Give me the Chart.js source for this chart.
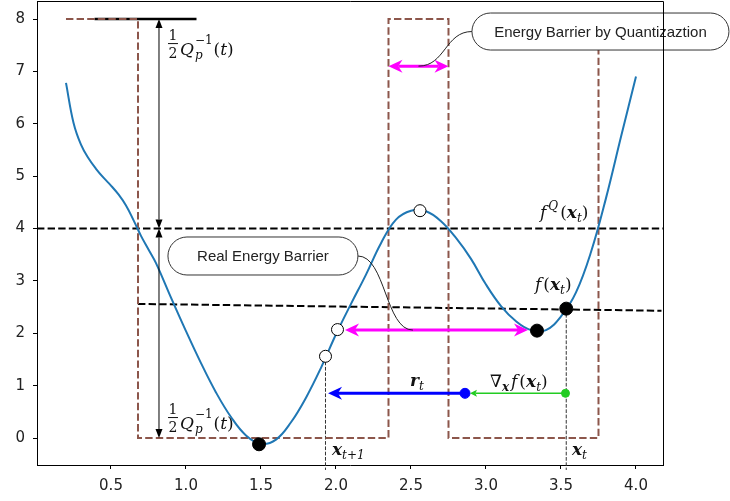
<!DOCTYPE html>
<html>
<head>
<meta charset="utf-8">
<script src="https://cdn.jsdelivr.net/npm/chart.js@4.4.1/dist/chart.umd.min.js"></script>
<style>
  html, body { margin: 0; padding: 0; background: #fff; }
  #wrap { width: 730px; height: 501px; }
</style>
</head>
<body>
<div id="wrap"><canvas id="energyChart" width="730" height="501"></canvas></div>
<script>
// loss curve f(x)
const curveX = [0.2, 0.25, 0.3, 0.35, 0.4, 0.45, 0.5, 0.55, 0.6, 0.65, 0.7, 0.75, 0.8, 0.9, 1.0,
  1.1, 1.2, 1.3, 1.4, 1.5, 1.6, 1.7, 1.8, 1.9, 2.0, 2.1, 2.2, 2.3, 2.4, 2.5, 2.6, 2.7,
  2.8, 2.9, 3.0, 3.1, 3.2, 3.3, 3.4, 3.5, 3.6, 3.7, 3.8, 3.9, 4.0];
const curveY = [6.78, 6.02, 5.6, 5.34, 5.14, 4.97, 4.82, 4.65, 4.44, 4.16, 3.86, 3.6, 3.34, 2.68, 2.04,
  1.43, 0.87, 0.4, 0.05, -0.11, -0.03, 0.3, 0.77, 1.34, 1.98, 2.56, 3.12, 3.72, 4.17, 4.34, 4.33, 4.14,
  3.82, 3.42, 2.93, 2.52, 2.23, 2.06, 2.06, 2.32, 2.78, 3.55, 4.58, 5.75, 6.9];

// quantization step (brown dashed)
const stepX = [0.2, 0.68, 0.68, 2.35, 2.35, 2.75, 2.75, 3.75, 3.75, 4.0];
const stepY = [8, 8, 0, 0, 8, 8, 0, 0, 8, 8];

// reference lines
const levelX = [0.0067, 4.18];
const levelY = [4, 4];
const slopeX = [0.68, 4.17];
const slopeY = [2.56, 2.43];
const capX = [0.39, 1.07];
const capY = [8, 8];

// iterates
const xT = 3.535;
const xT1 = 1.93;
const dropY = [2.47, -0.61];
const dropY1 = [1.56, -0.61];

// markers
const blackX = [1.487, 3.34, 3.535];
const blackY = [-0.12, 2.05, 2.47];
const whiteX = [1.93, 2.01, 2.56];
const whiteY = [1.56, 2.07, 4.34];
const blueDot = [2.86, 0.853];
const greenDot = [3.53, 0.853];

// arrows
const halfQX = 0.82;
const halfQY = [8, 4, 0];
const quantBarrierX = [2.35, 2.75];
const quantBarrierY = 7.1;
const realBarrierX = [2.06, 3.28];
const realBarrierY = 2.06;
const rStepX = [2.86, 1.947];
const gradX = [3.53, 2.893];
const stepArrowY = 0.853;

// axis ticks
const xTicks = [0.5, 1.0, 1.5, 2.0, 2.5, 3.0, 3.5, 4.0];
const yTicks = [0, 1, 2, 3, 4, 5, 6, 7, 8];

const pts = (xs, ys) => xs.map((x, i) => ({ x: x, y: ys[i] }));

const MI = 'italic 17px "DejaVu Serif"';
const MB = 'bold italic 17px "DejaVu Serif"';
const MR = '17px "DejaVu Serif"';
const SI = 'italic 12px "DejaVu Serif"';
const SR = '12px "DejaVu Serif"';

function drawRuns(ctx, x, y, runs) {
  ctx.textAlign = 'left';
  ctx.textBaseline = 'alphabetic';
  for (const r of runs) {
    ctx.font = r.font;
    ctx.fillText(r.t, x + (r.dx || 0), y + (r.dy || 0));
    x += ctx.measureText(r.t).width + (r.dx || 0) + (r.sp || 0);
  }
  return x;
}

function arrowHead(ctx, tx, ty, fx, fy, len, wid, notch, color) {
  const d = Math.hypot(tx - fx, ty - fy);
  const ux = (tx - fx) / d, uy = (ty - fy) / d;
  const nx = -uy, ny = ux;
  const bx = tx - ux * len, by = ty - uy * len;
  ctx.beginPath();
  ctx.moveTo(tx, ty);
  ctx.lineTo(bx + nx * wid / 2, by + ny * wid / 2);
  ctx.lineTo(tx - ux * len * (1 - notch), ty - uy * len * (1 - notch));
  ctx.lineTo(bx - nx * wid / 2, by - ny * wid / 2);
  ctx.closePath();
  ctx.fillStyle = color;
  ctx.fill();
}

// a->b arrow, head at b (and a when both)
function arrow(ctx, ax, ay, bx, by, o) {
  const d = Math.hypot(bx - ax, by - ay);
  const ux = (bx - ax) / d, uy = (by - ay) / d;
  const back = o.len * (1 - o.notch);
  const sx = o.both ? ax + ux * back : ax, sy = o.both ? ay + uy * back : ay;
  ctx.strokeStyle = o.color;
  ctx.lineWidth = o.lw;
  ctx.setLineDash([]);
  ctx.beginPath();
  ctx.moveTo(sx, sy);
  ctx.lineTo(bx - ux * back, by - uy * back);
  ctx.stroke();
  arrowHead(ctx, bx, by, ax, ay, o.len, o.wid, o.notch, o.color);
  if (o.both) arrowHead(ctx, ax, ay, bx, by, o.len, o.wid, o.notch, o.color);
}

function pillBox(ctx, cx, cy, w, h, text) {
  const r = h / 2;
  const l = cx - w / 2, rt = cx + w / 2, t = cy - h / 2, b = cy + h / 2;
  ctx.beginPath();
  ctx.moveTo(l + r, t);
  ctx.lineTo(rt - r, t);
  ctx.arc(rt - r, cy, r, -Math.PI / 2, Math.PI / 2);
  ctx.lineTo(l + r, b);
  ctx.arc(l + r, cy, r, Math.PI / 2, Math.PI * 1.5);
  ctx.closePath();
  ctx.fillStyle = '#fff';
  ctx.fill();
  ctx.strokeStyle = '#333';
  ctx.lineWidth = 1;
  ctx.setLineDash([]);
  ctx.stroke();
  ctx.fillStyle = '#222';
  ctx.font = '15px "Liberation Sans", Arial, sans-serif';
  ctx.textAlign = 'center';
  ctx.textBaseline = 'middle';
  ctx.fillText(text, cx, cy + 1);
}

function connector(ctx, x0, y0, x1, y1) {
  const mx = (x1 - x0) / 2;
  ctx.strokeStyle = '#222';
  ctx.lineWidth = 1;
  ctx.setLineDash([]);
  ctx.beginPath();
  ctx.moveTo(x0, y0);
  ctx.bezierCurveTo(x0 + mx, y0, x1 - mx, y1, x1, y1);
  ctx.stroke();
}

function halfQ(ctx, x, yBar) {
  ctx.fillStyle = '#111';
  ctx.textAlign = 'center';
  ctx.textBaseline = 'alphabetic';
  ctx.font = '14px "DejaVu Serif"';
  ctx.fillText('1', x + 5, yBar - 3);
  ctx.fillText('2', x + 5, yBar + 15);
  ctx.strokeStyle = '#111';
  ctx.lineWidth = 1;
  ctx.beginPath();
  ctx.moveTo(x, yBar + 0.5);
  ctx.lineTo(x + 10, yBar + 0.5);
  ctx.stroke();
  let cx = drawRuns(ctx, x + 12, yBar + 12, [{ t: 'Q', font: MI }]);
  ctx.font = SI;
  ctx.textAlign = 'left';
  ctx.fillText('p', cx + 1, yBar + 16);
  ctx.font = SR;
  ctx.fillText('\u22121', cx + 1, yBar + 1);
  cx += ctx.measureText('\u22121').width + 2;
  drawRuns(ctx, cx, yBar + 12, [{ t: '(', font: MR }, { t: 't', font: MI }, { t: ')', font: MR }]);
}

const overlay = {
  id: 'overlay',
  afterDatasetsDraw(chart) {
    const ctx = chart.ctx;
    const xs = chart.scales.x, ys = chart.scales.y;
    const X = v => xs.getPixelForValue(v);
    const Y = v => ys.getPixelForValue(v);
    const a = chart.chartArea;
    ctx.save();

    // half Q arrows
    const k = { color: '#000', lw: 1, len: 9, wid: 7, notch: 0, both: true };
    arrow(ctx, X(halfQX), Y(halfQY[0]), X(halfQX), Y(halfQY[1]), k);
    arrow(ctx, X(halfQX), Y(halfQY[1]), X(halfQX), Y(halfQY[2]), k);

    // barrier arrows
    const m = { color: '#ff00ff', lw: 3, len: 14, wid: 13, notch: 0.3, both: true };
    arrow(ctx, X(quantBarrierX[0]), Y(quantBarrierY), X(quantBarrierX[1]), Y(quantBarrierY), m);
    arrow(ctx, X(realBarrierX[0]), Y(realBarrierY), X(realBarrierX[1]), Y(realBarrierY), m);

    // update step and gradient
    arrow(ctx, X(rStepX[0]), Y(stepArrowY), X(rStepX[1]), Y(stepArrowY),
      { color: '#0000ff', lw: 3, len: 14, wid: 13, notch: 0.3, both: false });
    arrow(ctx, X(gradX[0]), Y(stepArrowY), X(gradX[1]), Y(stepArrowY),
      { color: '#22cc22', lw: 1.5, len: 7, wid: 7, notch: 0.2, both: false });

    // math labels
    ctx.fillStyle = '#111';
    halfQ(ctx, X(0.88), Y(7.54));
    halfQ(ctx, X(0.88), Y(0.40));
    drawRuns(ctx, X(3.36), Y(4.2), [{ t: 'f', font: MI, sp: 2 }, { t: 'Q', font: SI, dy: -8, sp: 2 },
      { t: '(', font: MR }, { t: 'x', font: MB }, { t: 't', font: SI, dy: 4 }, { t: ')', font: MR }]);
    drawRuns(ctx, X(3.327), Y(2.83), [{ t: 'f', font: MI, sp: 2 }, { t: '(', font: MR },
      { t: 'x', font: MB }, { t: 't', font: SI, dy: 4 }, { t: ')', font: MR }]);
    drawRuns(ctx, X(2.493), Y(0.99), [{ t: 'r', font: MB }, { t: 't', font: SI, dy: 4 }]);
    drawRuns(ctx, X(3.027), Y(0.97), [{ t: '\u2207', font: MR }, { t: 'x', font: 'bold italic 12px "DejaVu Serif"', dy: 4, sp: 2 },
      { t: 'f', font: MI, sp: 2 }, { t: '(', font: MR }, { t: 'x', font: MB }, { t: 't', font: SI, dy: 4 }, { t: ')', font: MR }]);
    drawRuns(ctx, X(1.973), Y(-0.32), [{ t: 'x', font: MB }, { t: 't+1', font: SI, dy: 4 }]);
    drawRuns(ctx, X(3.573), Y(-0.32), [{ t: 'x', font: MB }, { t: 't', font: SI, dy: 4 }]);

    // callouts
    connector(ctx, X(2.55), Y(quantBarrierY), X(3.763) - 128.5, Y(7.761));
    pillBox(ctx, X(3.763), Y(7.761), 257, 37, 'Energy Barrier by Quantizaztion');
    connector(ctx, X(1.513) + 95, Y(3.475), X(2.513), Y(realBarrierY));
    pillBox(ctx, X(1.513), Y(3.475), 190, 38, 'Real Energy Barrier');

    // frame top/right
    ctx.strokeStyle = '#000';
    ctx.lineWidth = 1;
    ctx.beginPath();
    ctx.moveTo(a.left, a.top + 0.5);
    ctx.lineTo(a.right + 0.5, a.top + 0.5);
    ctx.lineTo(a.right + 0.5, a.bottom);
    ctx.stroke();
    ctx.restore();
  }
};

const dashed = [7.4, 3.2];

function noPad(s) {
  s.paddingTop = 0;
  s.paddingBottom = 0;
  s.paddingLeft = 0;
  s.paddingRight = 0;
}

new Chart(document.getElementById('energyChart'), {
  type: 'scatter',
  data: {
    datasets: [
      { data: pts(blackX, blackY), pointRadius: 6.5, pointBackgroundColor: '#000', pointBorderColor: '#000', showLine: false },
      { data: pts(whiteX, whiteY), pointRadius: 6, pointBackgroundColor: '#fff', pointBorderColor: '#000', pointBorderWidth: 1, showLine: false },
      { data: [{ x: blueDot[0], y: blueDot[1] }], pointRadius: 5, pointBackgroundColor: '#0000ff', pointBorderColor: '#0000ff', showLine: false },
      { data: [{ x: greenDot[0], y: greenDot[1] }], pointRadius: 4, pointBackgroundColor: '#22cc22', pointBorderColor: '#22cc22', showLine: false },
      { data: pts(curveX, curveY), showLine: true, borderColor: '#1f77b4', borderWidth: 2, pointRadius: 0, tension: 0.4 },
      { data: pts(stepX, stepY), showLine: true, borderColor: '#8c564b', borderWidth: 2, borderDash: dashed, pointRadius: 0 },
      { data: pts(levelX, levelY), showLine: true, borderColor: '#000', borderWidth: 2, borderDash: dashed, pointRadius: 0 },
      { data: pts(slopeX, slopeY), showLine: true, borderColor: '#000', borderWidth: 2, borderDash: dashed, pointRadius: 0 },
      { data: pts(capX, capY), showLine: true, borderColor: '#000', borderWidth: 2.5, pointRadius: 0 },
      { data: pts([xT, xT], dropY), showLine: true, borderColor: '#333', borderWidth: 1, borderDash: [3.7, 1.6], pointRadius: 0, clip: false },
      { data: pts([xT1, xT1], dropY1), showLine: true, borderColor: '#333', borderWidth: 1, borderDash: [3.7, 1.6], pointRadius: 0, clip: false }
    ]
  },
  options: {
    responsive: false,
    animation: false,
    devicePixelRatio: 1,
    layout: { autoPadding: false, padding: { left: 0, right: 67, top: 1, bottom: 0 } },
    plugins: { legend: { display: false }, tooltip: { enabled: false } },
    scales: {
      x: {
        type: 'linear',
        min: 0.0067,
        max: 4.18,
        afterFit: s => { s.height = 36; noPad(s); },
        afterBuildTicks: s => { s.ticks = xTicks.map(v => ({ value: v })); },
        grid: { drawOnChartArea: false, drawTicks: true, tickLength: 4, color: '#000' },
        border: { display: true, color: '#000', width: 1 },
        ticks: { color: '#222', padding: 8, font: { family: 'DejaVu Sans', size: 15 }, callback: v => v.toFixed(1), maxRotation: 0 }
      },
      y: {
        type: 'linear',
        min: -0.5155,
        max: 8.3437,
        afterFit: s => { s.width = 37; noPad(s); },
        afterBuildTicks: s => { s.ticks = yTicks.map(v => ({ value: v })); },
        grid: { drawOnChartArea: false, drawTicks: true, tickLength: 4, color: '#000' },
        border: { display: true, color: '#000', width: 1 },
        ticks: { color: '#222', padding: 8, font: { family: 'DejaVu Sans', size: 15 }, callback: v => String(v) }
      }
    }
  },
  plugins: [overlay]
});
</script>
</body>
</html>
